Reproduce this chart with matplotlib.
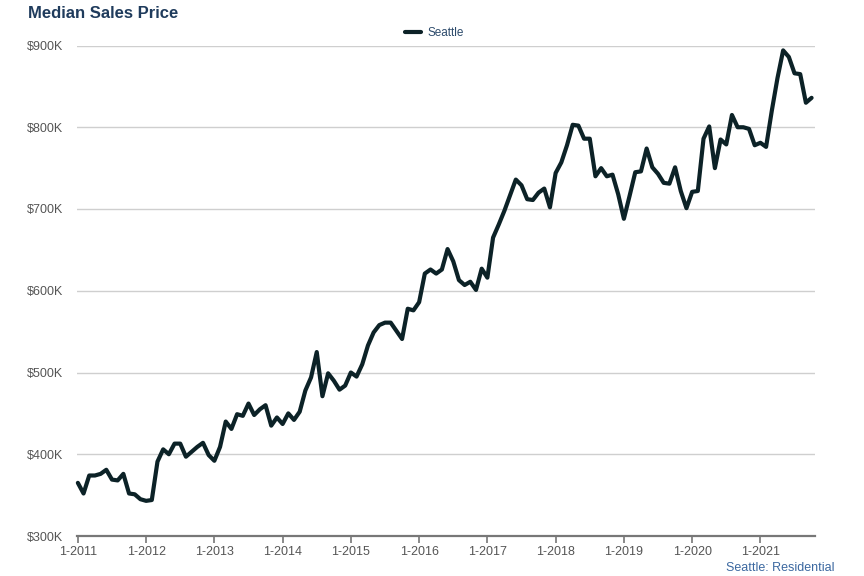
import matplotlib
matplotlib.use("Agg")
import matplotlib.pyplot as plt
import numpy as np

# Monthly median sales price (thousands USD), Jan 2011 .. Oct 2021
seattle_k = [
    365, 352, 374, 374, 376, 381, 369, 368, 376, 352, 351, 345,   # 2011
    343, 344, 391, 406, 400, 413, 413, 397, 403, 409, 414, 399,   # 2012
    392, 409, 440, 431, 449, 447, 462, 448, 455, 460, 435, 445,   # 2013
    437, 450, 442, 452, 478, 494, 525, 471, 499, 490, 479, 484,   # 2014
    500, 495, 510, 533, 549, 558, 561, 561, 551, 541, 578, 576,   # 2015
    586, 621, 626, 621, 626, 651, 636, 613, 607, 611, 601, 627,   # 2016
    616, 665, 681, 698, 717, 736, 729, 712, 711, 720, 725, 702,   # 2017
    744, 757, 778, 803, 802, 786, 786, 740, 750, 740, 742, 718,   # 2018
    688, 716, 745, 746, 774, 751, 743, 732, 731, 751, 722, 701,   # 2019
    721, 722, 786, 801, 750, 785, 779, 815, 800, 800, 798, 778,   # 2020
    781, 776, 820, 860, 894, 886, 866, 865, 830, 836,             # 2021
]
months = np.arange(len(seattle_k))
year_tick_pos = np.arange(0, 121, 12)
year_tick_labels = [f"1-{y}" for y in range(2011, 2022)]
y_ticks = [300, 400, 500, 600, 700, 800, 900]
y_tick_labels = [f"${v}K" for v in y_ticks]

plt.rcParams['font.family'] = ['Liberation Sans', 'DejaVu Sans']

fig = plt.figure(figsize=(8.64, 5.76), dpi=100)
ax = fig.add_axes([77/864, 1 - 536/576, (815 - 77)/864, (536 - 45.5)/576])

ax.plot(months, seattle_k, color='#0c2227', linewidth=3.0, solid_joinstyle='round',
        solid_capstyle='round', label='Seattle', zorder=3, clip_on=False)

ax.set_xlim(-0.15, 129.6)
ax.set_ylim(300, 900)
ax.set_yticks(y_ticks)
ax.set_yticklabels(y_tick_labels)
ax.set_xticks(year_tick_pos)
ax.set_xticklabels(year_tick_labels)

ax.grid(axis='y', color='#cfcfcf', linewidth=1.0, zorder=0)
ax.set_axisbelow(True)
for side in ['top', 'right', 'left']:
    ax.spines[side].set_visible(False)
ax.spines['bottom'].set_color('#777777')
ax.spines['bottom'].set_linewidth(1.6)

ax.tick_params(axis='y', length=0, pad=10, labelsize=9, labelcolor='#555555')
ax.tick_params(axis='x', length=5, width=1.2, color='#777777', pad=2.5,
               labelsize=9, labelcolor='#555555', direction='out')

fig.text(28/864, 1 - 14/576, 'Median Sales Price', fontsize=12, fontweight='bold',
         color='#1f3b5c', ha='left', va='center')

leg = ax.legend(loc='center', bbox_to_anchor=(434/864, 1 - 33/576),
                bbox_transform=fig.transFigure, frameon=False, fontsize=8.5,
                handlelength=1.4, handletextpad=0.5, borderpad=0)
for t in leg.get_texts():
    t.set_color('#2c4a6b')

fig.text(835/864, 1 - 571/576, 'Seattle: Residential', fontsize=9,
         color='#3b68a0', ha='right', va='baseline')

fig.savefig('out.png', dpi=100)
